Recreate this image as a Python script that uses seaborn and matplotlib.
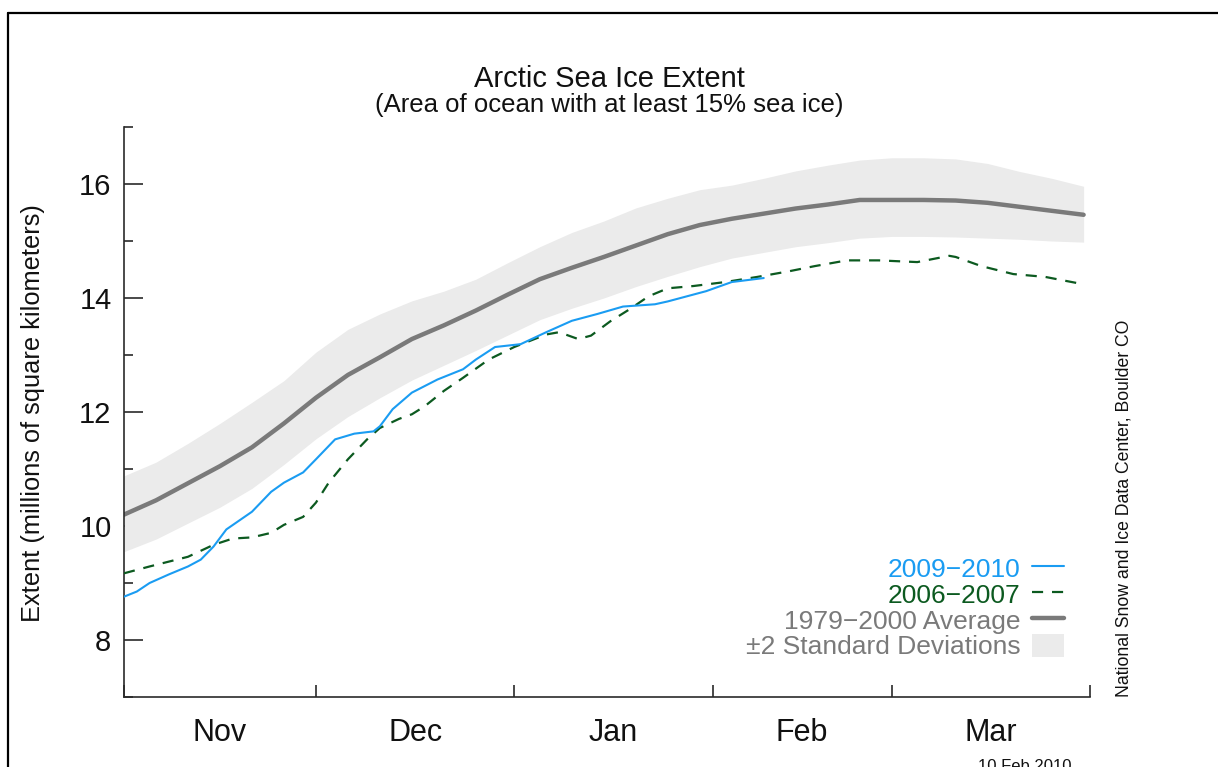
import numpy as np
import seaborn as sns
import matplotlib.pyplot as plt
from matplotlib.lines import Line2D
from matplotlib.patches import Patch

# -----------------------------
# DATA (x = days since 1 Nov, y = million km^2)
# -----------------------------
avg_days = [0, 5, 10, 15, 20, 25, 30, 35, 40, 45, 50, 55, 60, 65, 70, 75,
            80, 85, 90, 95, 100, 105, 110, 115, 120, 125, 130, 135, 140, 145, 150]
avg_mean = [10.20, 10.45, 10.75, 11.05, 11.38, 11.80, 12.25, 12.65, 12.96, 13.28,
            13.52, 13.78, 14.06, 14.33, 14.53, 14.72, 14.92, 15.12, 15.28, 15.39,
            15.48, 15.57, 15.64, 15.72, 15.72, 15.72, 15.71, 15.67, 15.60, 15.53, 15.46]
avg_upper = [10.88, 11.12, 11.45, 11.80, 12.17, 12.55, 13.05, 13.45, 13.72, 13.95,
             14.12, 14.33, 14.62, 14.90, 15.15, 15.35, 15.58, 15.75, 15.90, 15.98,
             16.10, 16.23, 16.33, 16.42, 16.46, 16.46, 16.44, 16.36, 16.22, 16.10, 15.96]
avg_lower = [9.55, 9.77, 10.05, 10.33, 10.66, 11.08, 11.53, 11.92, 12.25, 12.56,
             12.82, 13.08, 13.35, 13.62, 13.82, 14.00, 14.20, 14.38, 14.55, 14.70,
             14.80, 14.90, 14.97, 15.05, 15.08, 15.08, 15.07, 15.05, 15.03, 15.00, 14.98]

y0910_days = [0, 2, 4, 7, 10, 12, 14, 16, 20, 23, 25, 28, 30, 33, 36, 39, 40,
              42, 45, 49, 53, 55, 58, 62, 66, 70, 74, 78, 83, 85, 89, 91, 95, 100]
y0910_vals = [8.76, 8.85, 9.00, 9.15, 9.29, 9.41, 9.64, 9.94, 10.25, 10.60, 10.76,
              10.94, 11.17, 11.52, 11.62, 11.66, 11.75, 12.05, 12.34, 12.57, 12.75,
              12.92, 13.14, 13.19, 13.40, 13.60, 13.72, 13.85, 13.89, 13.94, 14.06,
              14.12, 14.28, 14.35]

y0607_days = [0, 4, 10, 14, 17, 20, 23, 25, 28, 30, 32, 35, 38, 40, 43, 45, 47,
              50, 53, 57, 61, 66, 68, 71, 73, 76, 79, 82, 85, 89, 94, 99, 104,
              108, 113, 118, 124, 129, 130, 134, 139, 144, 150]
y0607_vals = [9.17, 9.29, 9.46, 9.67, 9.78, 9.80, 9.88, 10.02, 10.16, 10.41, 10.76,
              11.17, 11.52, 11.72, 11.88, 11.96, 12.10, 12.37, 12.60, 12.92, 13.14,
              13.36, 13.40, 13.28, 13.34, 13.59, 13.80, 14.03, 14.17, 14.21, 14.28,
              14.37, 14.47, 14.56, 14.66, 14.66, 14.63, 14.74, 14.72, 14.56, 14.42,
              14.37, 14.24]

month_edges = [0, 30, 61, 92, 120, 151]
month_names = ["Nov", "Dec", "Jan", "Feb", "Mar"]
legend_labels = ["2009\u22122010", "2006\u22122007", "1979\u22122000 Average",
                 "\u00b12 Standard Deviations"]

# colours
c_blue = "#1a9cf2"
c_green = "#0c5a20"
c_avg = "#7a7a7a"
c_band = "#ebebeb"
c_axis = "#2a2a2a"

sns.set_theme(style="ticks")
plt.rcParams["font.family"] = ["Liberation Sans", "DejaVu Sans"]

W, H = 1218, 767
fig = plt.figure(figsize=(W / 100, H / 100), dpi=100)
fig.patch.set_facecolor("white")
ax = fig.add_axes([124 / W, 1 - 697 / H, (1090 - 124) / W, (697 - 127) / H])
ax.set_facecolor("white")

# -----------------------------
# plot
# -----------------------------
ax.fill_between(avg_days, avg_lower, avg_upper, color=c_band, lw=0, zorder=1)
sns.lineplot(x=avg_days, y=avg_mean, ax=ax, color=c_avg, lw=3.2, zorder=2)
sns.lineplot(x=y0607_days, y=y0607_vals, ax=ax, color=c_green, lw=1.6,
             linestyle=(0, (5, 4)), zorder=3)
sns.lineplot(x=y0910_days, y=y0910_vals, ax=ax, color=c_blue, lw=1.5, zorder=4)

ax.set_xlim(month_edges[0], month_edges[-1])
ax.set_ylim(7, 17)

# axes styling
for s in ["top", "right"]:
    ax.spines[s].set_visible(False)
for s in ["left", "bottom"]:
    ax.spines[s].set_color(c_axis)
    ax.spines[s].set_linewidth(1.2)

ax.set_yticks([8, 10, 12, 14, 16])
ax.set_yticks([7, 9, 11, 13, 15, 17], minor=True)
ax.tick_params(axis="y", which="major", direction="in", length=13.5, width=1.2,
               color=c_axis, labelsize=21, labelcolor="#111111", pad=9)
ax.tick_params(axis="y", which="minor", direction="in", length=6.5, width=1.2,
               color=c_axis)

mids = [(a + b) / 2 for a, b in zip(month_edges[:-1], month_edges[1:])]
ax.set_xticks(month_edges)
ax.set_xticklabels([""] * len(month_edges))
ax.set_xticks(mids, minor=True)
ax.set_xticklabels(month_names, minor=True)
ax.tick_params(axis="x", which="major", direction="in", length=8.5, width=1.2,
               color=c_axis)
ax.tick_params(axis="x", which="minor", length=0, labelsize=22,
               labelcolor="#111111", pad=15)
ax.set_xlabel("")
ax.set_ylabel("")

# legend
handles = [Line2D([], [], color=c_blue, lw=1.5),
           Line2D([], [], color=c_green, lw=1.6, linestyle=(0, (5, 4))),
           Line2D([], [], color=c_avg, lw=3.2),
           Patch(facecolor=c_band, edgecolor="none")]
ax.legend(handles, legend_labels, loc="lower right",
          bbox_to_anchor=(0.973, 0.066), frameon=False, markerfirst=False,
          fontsize=19, labelcolor=[c_blue, c_green, c_avg, c_avg],
          handlelength=1.2, handleheight=1.0, handletextpad=0.45,
          labelspacing=0.0, borderpad=0, borderaxespad=0)

# texts
fig.text(609 / W, 1 - 79 / H, "Arctic Sea Ice Extent", ha="center", va="center",
         fontsize=21, color="#111111")
fig.text(609 / W, 1 - 105 / H, "(Area of ocean with at least 15% sea ice)",
         ha="center", va="center", fontsize=18.5, color="#111111")
fig.text(33 / W, 1 - 413 / H, "Extent (millions of square kilometers)",
         rotation=90, ha="center", va="center", fontsize=18.3, color="#111111")
fig.text(1124 / W, 1 - 697 / H, "National Snow and Ice Data Center, Boulder CO",
         rotation=90, ha="center", va="bottom", fontsize=12.7, color="#111111")
fig.text(1025 / W, 1 - 759 / H, "10 Feb 2010", ha="center", va="top",
         fontsize=12, color="#111111")

# outer frame (cut off at right / bottom)
fig.add_artist(Line2D([8 / W, 8 / W], [0, 1 - 12.5 / H], transform=fig.transFigure,
                      color="black", lw=1.6))
fig.add_artist(Line2D([8 / W, 1], [1 - 12.5 / H, 1 - 12.5 / H],
                      transform=fig.transFigure, color="black", lw=1.6))

fig.savefig("out.png", dpi=100)
